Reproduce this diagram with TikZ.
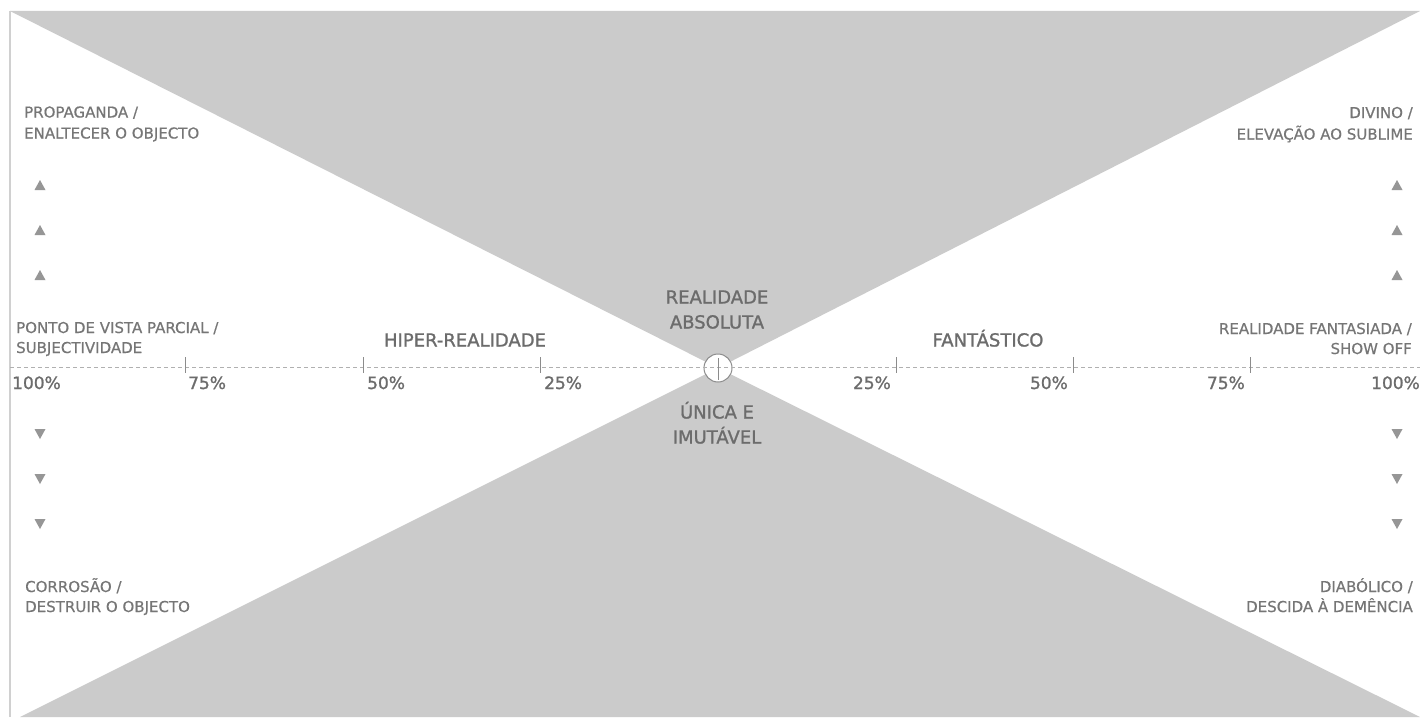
\documentclass[tikz,border=0pt]{standalone}
\usepackage{fontspec}
\setmainfont{DejaVu Sans}
\newfontfamily\heavyfont[FakeBold=1.2]{DejaVu Sans}
\newfontfamily\lightheavyfont[FakeBold=0.5]{DejaVu Sans}
\definecolor{trigray}{HTML}{CBCBCB}
\definecolor{txtgray}{HTML}{6C6C6C}
\definecolor{smallgray}{HTML}{767676}
\definecolor{dashgray}{HTML}{B0B0B0}
\definecolor{tickgray}{HTML}{8C8C8C}
\definecolor{arrgray}{HTML}{969696}
\definecolor{bordergray}{HTML}{D0D0D0}
\begin{document}
\begin{tikzpicture}[x=1pt,y=-1pt,
  smalllabel/.style={font=\lightheavyfont\fontsize{15}{20}\selectfont, text=smallgray, inner sep=0pt},
  biglabel/.style={font=\heavyfont\fontsize{18}{25}\selectfont, text=txtgray, inner sep=0pt, anchor=base},
  pctlabel/.style={font=\heavyfont\fontsize{17}{20}\selectfont, text=txtgray, inner sep=0pt},
  tickline/.style={draw=tickgray, line width=1pt},
  axisline/.style={draw=dashgray, line width=1pt, dash pattern=on 4pt off 3pt},
  triangleshade/.style={fill=trigray},
  arrowmark/.style={fill=arrgray}
]
\useasboundingbox (0,0) rectangle (1420,717);
\fill[white] (0,0) rectangle (1420,717);

% key points
\coordinate (tl) at (10,11);
\coordinate (tr) at (1420,11);
\coordinate (bl) at (20,717);
\coordinate (br) at (1420,717);
\coordinate (ctr) at (718,368);

% hourglass
\fill[triangleshade] (tl) -- (tr) -- (ctr) -- cycle;
\fill[triangleshade] (bl) -- (br) -- (ctr) -- cycle;

% left border
\coordinate (lbt) at (10,11);
\coordinate (lbb) at (10,717);
\draw[draw=bordergray, line width=2pt] (lbt) -- (lbb);

% centre circle
\node[circle, draw=tickgray, fill=white, line width=1pt, minimum size=28pt, inner sep=0pt] (centre) at (ctr) {};

% axis
\coordinate (axl) at (10,367);
\coordinate (axr) at (1420,367);
\draw[axisline] (axl) -- (axr);
\coordinate (ct1) at (718,358);
\coordinate (ct2) at (718,380);
\draw[tickline] (ct1) -- (ct2);

% ticks
\foreach \x/\n in {185/a,363/b,540/c,896/d,1073/e,1250/f}{
  \coordinate (t\n1) at (\x,357);
  \coordinate (t\n2) at (\x,373);
  \draw[tickline] (t\n1) -- (t\n2);
}

% percentage labels
\node[pctlabel, anchor=base west] (p100l) at (12,389) {100\%};
\node[pctlabel, anchor=base west] (p75l) at (188,389) {75\%};
\node[pctlabel, anchor=base west] (p50l) at (367,389) {50\%};
\node[pctlabel, anchor=base west] (p25l) at (544,389) {25\%};
\node[pctlabel, anchor=base east] (p25r) at (891,389) {25\%};
\node[pctlabel, anchor=base east] (p50r) at (1068,389) {50\%};
\node[pctlabel, anchor=base east] (p75r) at (1245,389) {75\%};
\node[pctlabel, anchor=base east] (p100r) at (1420,389) {100\%};

% big labels
\node[biglabel] (hiper) at (465,346.5) {HIPER-REALIDADE};
\node[biglabel] (fant) at (988,346.5) {FANTÁSTICO};
\node[biglabel] (real1) at (717,303.5) {REALIDADE};
\node[biglabel] (real2) at (717,328.5) {ABSOLUTA};
\node[biglabel] (unica1) at (717,418.5) {ÚNICA E};
\node[biglabel] (unica2) at (717,443.5) {IMUTÁVEL};

% corner labels, left
\node[smalllabel, anchor=base west] (prop1) at (24,117.5) {PROPAGANDA /};
\node[smalllabel, anchor=base west] (prop2) at (24,138.5) {ENALTECER O OBJECTO};
\node[smalllabel, anchor=base west] (ponto1) at (16,333) {PONTO DE VISTA PARCIAL /};
\node[smalllabel, anchor=base west] (ponto2) at (16,353) {SUBJECTIVIDADE};
\node[smalllabel, anchor=base west] (corr1) at (25,592) {CORROSÃO /};
\node[smalllabel, anchor=base west] (corr2) at (25,612) {DESTRUIR O OBJECTO};

% corner labels, right
\node[smalllabel, anchor=base east] (div1) at (1413,118) {DIVINO /};
\node[smalllabel, anchor=base east] (div2) at (1413,139.5) {ELEVAÇÃO AO SUBLIME};
\node[smalllabel, anchor=base east] (rf1) at (1412,334) {REALIDADE FANTASIADA /};
\node[smalllabel, anchor=base east] (rf2) at (1412,354) {SHOW OFF};
\node[smalllabel, anchor=base east] (diab1) at (1413,592) {DIABÓLICO /};
\node[smalllabel, anchor=base east] (diab2) at (1413,612) {DESCIDA À DEMÊNCIA};

% up markers
\foreach \x in {40,1397}{
  \foreach \y in {185,230,275}{
    \fill[arrowmark] (\x-5.5,\y+5) -- (\x+5.5,\y+5) -- (\x,\y-5) -- cycle;
  }
}
% down markers
\foreach \x in {40,1397}{
  \foreach \y in {434,479,524}{
    \fill[arrowmark] (\x-5.5,\y-5) -- (\x+5.5,\y-5) -- (\x,\y+5) -- cycle;
  }
}
\end{tikzpicture}
\end{document}
